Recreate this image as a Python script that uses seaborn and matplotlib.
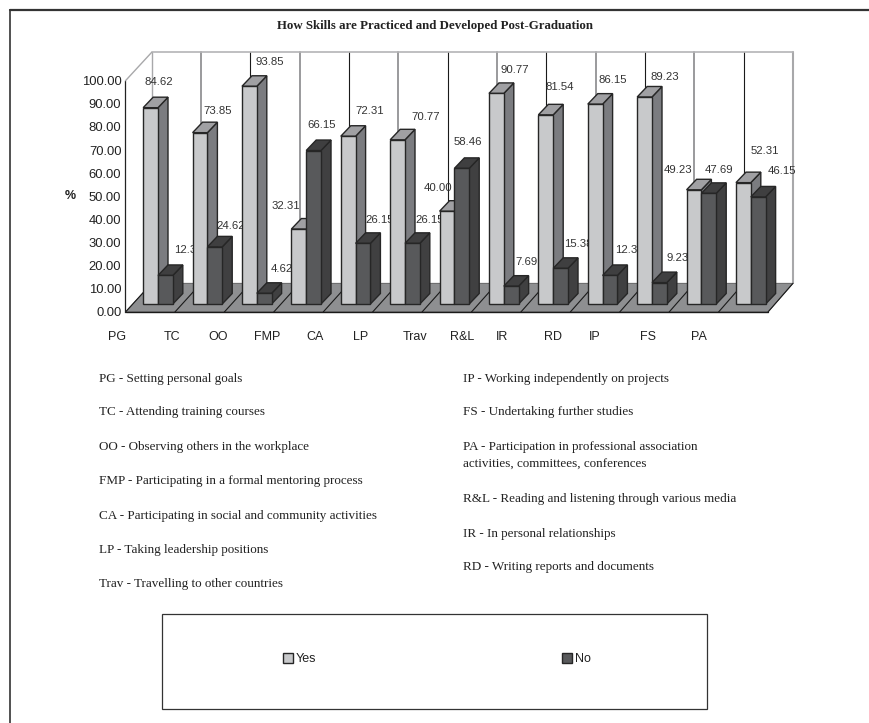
import matplotlib
matplotlib.use("Agg")
import matplotlib.pyplot as plt
from matplotlib.patches import Polygon, Rectangle
from matplotlib.lines import Line2D
from matplotlib.transforms import Affine2D
import pandas as pd
import seaborn as sns

# Survey results, percent of respondents per skill-development activity
categories = ["PG", "TC", "OO", "FMP", "CA", "LP", "Trav", "R&L", "IR", "RD", "IP", "FS", "PA"]
yes_values = [84.62, 73.85, 93.85, 32.31, 72.31, 70.77, 40.00, 90.77, 81.54, 86.15, 89.23, 49.23, 52.31]
no_values = [12.31, 24.62, 4.62, 66.15, 26.15, 26.15, 58.46, 7.69, 15.38, 12.31, 9.23, 47.69, 46.15]
responses = ["Yes", "No"]

notes_left = [
    "PG - Setting personal goals",
    "TC - Attending training courses",
    "OO - Observing others in the workplace",
    "FMP - Participating in a formal mentoring process",
    "CA - Participating in social and community activities",
    "LP - Taking leadership positions",
    "Trav - Travelling to other countries",
]
notes_right = [
    "IP - Working independently on projects",
    "FS - Undertaking further studies",
    "PA - Participation in professional association",
    "activities, committees, conferences",
    "R&L - Reading and listening through various media",
    "IR - In personal relationships",
    "RD - Writing reports and documents",
]

# Layout, in pixels of the 870x723 canvas
W, H = 870, 723
BASE_Y = 304.0          # bar feet
PX_PER_UNIT = 2.32
FIRST_GROUP_X = 158.0
GROUP_STEP = 49.4
BAR_DEPTH = (10.0, 10.5)
FRONT_L, FRONT_R, FRONT_Y = 125.5, 768.0, 312.0
BACK_L, BACK_R, BACK_Y, TOP_Y = 151.7, 793.0, 283.3, 52.3
AXIS_TOP = 80.7
label_x_px = [117, 172, 218.3, 267, 315, 361, 414.7, 461.7, 502, 552.7, 595, 648, 699]
yes_label_shift = [(8, 25.7), (17.7, 21.7), (20.6, 24), (-13.1, 23.3), (21.5, 24.9), (28.1, 22.5), (-9.3, 22.9),
                   (18.3, 23.1), (13.5, 28.1), (17.5, 23.8), (20.4, 19.7), (-16, 19.5), (21.9, 31.3)]
no_label_shift = [(22.9, 25.4), (15.9, 20.6), (18.1, 24), (7.7, 25.2), (17, 23), (16.9, 23), (6.2, 26.1),
                  (15.8, 23.9), (17.7, 24), (19, 25.1), (18.6, 24.3), (10.2, 23.1), (24.1, 25.7)]
notes_left_y = [379, 412, 447, 481, 516, 550, 584]
notes_right_y = [379, 412, 447, 465, 499, 534, 567]

YES_FACES = ("#c8c9cb", "#7b7c80", "#a0a0a3")
NO_FACES = ("#58595b", "#404041", "#3f3f40")
EDGE = "#262626"
SANS = "Liberation Sans"
SERIF = "Liberation Serif"

sns.set_theme(style="white")
plt.rcParams["font.family"] = SANS

fig = plt.figure(figsize=(W / 100, H / 100), dpi=100, facecolor="white")
to_px = Affine2D().scale(1, -1).translate(0, H)

# Front plane of the 3D frame: value axis
front = fig.add_axes([FRONT_L / W, 1 - FRONT_Y / H, (FRONT_R - FRONT_L) / W, (FRONT_Y - AXIS_TOP) / H])
front.set_zorder(0)
front.patch.set_visible(False)
front.set_yticks(range(0, 101, 10))
front.set_yticklabels([f"{v:.2f}" for v in range(0, 101, 10)], fontsize=9.4, color="#222222")
front.set_xticks([])
front.set_ylim(0, 100)
front.tick_params(axis="y", length=2, width=0.8, pad=1, color="#222222")
for side in ("top", "right", "bottom"):
    front.spines[side].set_visible(False)
front.spines["left"].set_color("#222222")
front.spines["left"].set_linewidth(0.9)

# Bars share one full-canvas axes, so the value scale sits on the bar feet
ax = fig.add_axes([0, 0, 1, 1])
ax.set_zorder(1)
ax.patch.set_visible(False)
plot_data = pd.DataFrame({
    "category": categories * 2,
    "response": [responses[0]] * len(categories) + [responses[1]] * len(categories),
    "percent": yes_values + no_values,
})
sns.barplot(data=plot_data, x="category", y="percent", hue="response", order=categories,
            hue_order=responses, palette=[YES_FACES[0], NO_FACES[0]], width=0.6, gap=0,
            saturation=1, edgecolor=EDGE, linewidth=1.0, ax=ax)
ax.set_xlim(-FIRST_GROUP_X / GROUP_STEP, (W - FIRST_GROUP_X) / GROUP_STEP)
ax.set_ylim((BASE_Y - H) / PX_PER_UNIT, BASE_Y / PX_PER_UNIT)
ax.axis("off")
depth_dx = BAR_DEPTH[0] / GROUP_STEP
depth_dy = BAR_DEPTH[1] / PX_PER_UNIT

# Back wall and floor
ax.add_patch(Polygon([(FRONT_L, FRONT_Y), (BACK_L, BACK_Y), (BACK_R, BACK_Y), (FRONT_R, FRONT_Y)],
                     closed=True, facecolor="#8e8f91", edgecolor="#555555", lw=0.6,
                     transform=to_px, zorder=1))
for i in range(len(categories) + 1):
    x_back = BACK_L + i * (BACK_R - BACK_L) / len(categories)
    x_front = FRONT_L + i * (FRONT_R - FRONT_L) / len(categories)
    wall_color, wall_lw = ("#1a1a1a", 0.8) if i % 2 == 0 else ("#9a9a9c", 1.4)
    if i in (0, len(categories)):
        wall_color, wall_lw = "#a8a8aa", 1.5 if i else 1.0
    ax.add_line(Line2D([x_back, x_back], [TOP_Y, BACK_Y], color=wall_color, lw=wall_lw, transform=to_px, zorder=2))
    ax.add_line(Line2D([x_front, x_back], [FRONT_Y, BACK_Y], color="#1a1a1a", lw=0.8, transform=to_px, zorder=2))
ax.add_line(Line2D([BACK_L, BACK_R], [TOP_Y, TOP_Y], color="#b4b4b6", lw=1.2, transform=to_px, zorder=2))
ax.add_line(Line2D([FRONT_L, BACK_L], [AXIS_TOP, TOP_Y], color="#a8a8aa", lw=1.0, transform=to_px, zorder=2))
ax.add_line(Line2D([FRONT_L, FRONT_R], [FRONT_Y, FRONT_Y], color="#1a1a1a", lw=1.0, transform=to_px, zorder=2))

# Extrude each bar and stack it so later groups cover earlier labels
for s, (container, faces, shifts) in enumerate(zip(ax.containers, (YES_FACES, NO_FACES),
                                                   (yes_label_shift, no_label_shift))):
    for i, bar in enumerate(container):
        z = 10 + 10 * i + 3 * s
        x0, w, h = bar.get_x(), bar.get_width(), bar.get_height()
        bar.set_zorder(z + 1)
        ax.add_patch(Polygon([(x0 + w, 0), (x0 + w + depth_dx, depth_dy), (x0 + w + depth_dx, h + depth_dy), (x0 + w, h)],
                             closed=True, facecolor=faces[1], edgecolor=EDGE, lw=1.0, zorder=z))
        ax.add_patch(Polygon([(x0, h), (x0 + depth_dx, h + depth_dy), (x0 + w + depth_dx, h + depth_dy), (x0 + w, h)],
                             closed=True, facecolor=faces[2], edgecolor=EDGE, lw=1.0, zorder=z))
        ax.annotate(f"{h:.2f}", xy=(x0 + w / 2, h), xytext=shifts[i], textcoords="offset pixels",
                    ha="center", va="center", fontsize=8.2, color="#333333", zorder=z - 1)

# Activity codes under the floor
for code, x in zip(categories, label_x_px):
    ax.text(x, 337, code, transform=to_px, fontsize=9, ha="center", va="center", color="#222222")

# Chart title and axis caption
ax.text(434.7, 26, "How Skills are Practiced and Developed Post-Graduation", transform=to_px,
        family=SERIF, weight="bold", fontsize=9.3, ha="center", va="center", color="#222222")
ax.text(70, 196, "%", transform=to_px, weight="bold", fontsize=9, ha="center", va="center", color="#222222")

# Key to the activity codes
for text, y in zip(notes_left, notes_left_y):
    ax.text(99, y, text, transform=to_px, family=SERIF, fontsize=9.45, va="center", color="#222222")
for text, y in zip(notes_right, notes_right_y):
    ax.text(463, y, text, transform=to_px, family=SERIF, fontsize=9.45, va="center", color="#222222")

# Legend and its box
ax.add_patch(Rectangle((162, 614), 545, 95, transform=to_px, facecolor="white", edgecolor="#333333", lw=0.9, zorder=2))
handles, labels = ax.get_legend_handles_labels()
ax.get_legend().remove()
legend = ax.legend(handles, labels, ncol=2, frameon=False, loc="center",
                   bbox_to_anchor=(0.5 + 2 / W, 1 - 659 / H), bbox_transform=fig.transFigure,
                   fontsize=9, handlelength=0.8, handleheight=0.9, handletextpad=0.2,
                   columnspacing=19.7, labelcolor="#222222")
legend.set_zorder(3)

# Outer page frame
fig.add_artist(Line2D([10, W], [10, 10], color="#333333", lw=1.6, transform=to_px))
fig.add_artist(Line2D([10, 10], [10, H], color="#333333", lw=1.2, transform=to_px))

fig.savefig("out.png", dpi=100)
